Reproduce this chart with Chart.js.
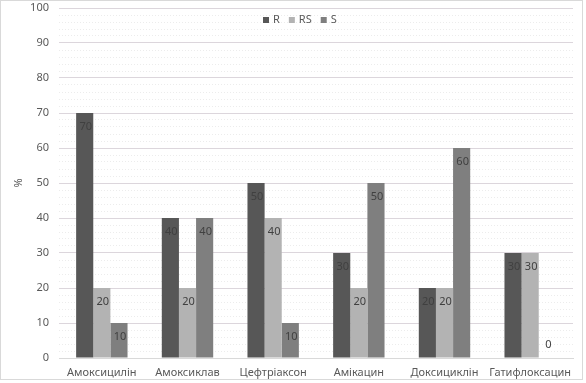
<!DOCTYPE html>
<html>
<head>
<meta charset="utf-8">
<script src="https://cdn.jsdelivr.net/npm/chart.js@4/dist/chart.umd.min.js"></script>
<style>
html,body{margin:0;padding:0;background:#fff;}
#wrap{width:586px;height:383px;position:relative;}
</style>
</head>
<body>
<div id="wrap"><canvas id="c" width="586" height="383"></canvas></div>
<script>
const categories = ["Амоксицилін","Амоксиклав","Цефтріаксон","Амікацин","Доксициклін","Гатифлоксацин"];
const seriesR  = [70, 40, 50, 30, 20, 30];
const seriesRS = [20, 20, 40, 20, 20, 30];
const seriesS  = [10, 40, 10, 50, 60, 0];
const yTicks = [0,10,20,30,40,50,60,70,80,90,100];

const FONT = "'Noto Sans', 'Liberation Sans', sans-serif";
const TXT = '#595959';

const labelPlugin = {
  id: 'barLabels',
  afterDatasetsDraw(chart) {
    const ctx = chart.ctx;
    ctx.save();
    ctx.font = '11px ' + FONT;
    ctx.fillStyle = '#404040';
    ctx.textAlign = 'center';
    ctx.textBaseline = 'middle';
    chart.data.datasets.forEach((ds, di) => {
      const meta = chart.getDatasetMeta(di);
      meta.data.forEach((el, i) => {
        const v = ds.data[i];
        const y = v === 0 ? el.y - 13 : el.y + 14;
        ctx.fillText(String(v), el.x + 1, y);
      });
    });
    ctx.restore();
  }
};

// legend drawn inside the plot area near the top
const legendPlugin = {
  id: 'innerLegend',
  afterDraw(chart) {
    const ctx = chart.ctx;
    const ds = chart.data.datasets;
    ctx.save();
    ctx.font = '11px ' + FONT;
    ctx.textBaseline = 'middle';
    const box = 6, gap = 4, itemGap = 9;
    const widths = ds.map(d => ctx.measureText(d.label).width);
    const area = chart.chartArea;
    let x = area.left + 204;
    const y = 20;
    ds.forEach((d, i) => {
      ctx.fillStyle = d.backgroundColor;
      ctx.fillRect(x, y - box / 2, box, box);
      x += box + gap;
      ctx.fillStyle = TXT;
      ctx.fillText(d.label, x, y);
      x += widths[i] + itemGap;
    });
    ctx.restore();
  }
};

const borderPlugin = {
  id: 'outerBorder',
  beforeDraw(chart) {
    const ctx = chart.ctx;
    ctx.save();
    ctx.fillStyle = '#fff';
    ctx.fillRect(0, 0, chart.width, chart.height);
    ctx.strokeStyle = '#d9d9d9';
    ctx.lineWidth = 1;
    ctx.strokeRect(0.5, 0.5, 582, 379);
    ctx.restore();
  }
};

new Chart(document.getElementById('c'), {
  type: 'bar',
  data: {
    labels: categories,
    datasets: [
      { label: 'R',  data: seriesR,  backgroundColor: '#575757' },
      { label: 'RS', data: seriesRS, backgroundColor: '#b3b3b3' },
      { label: 'S',  data: seriesS,  backgroundColor: '#7f7f7f' }
    ]
  },
  options: {
    responsive: false,
    animation: false,
    layout: { padding: { left: 12, right: 13, top: 8, bottom: 0 } },
    datasets: { bar: { categoryPercentage: 0.6, barPercentage: 1.0 } },
    plugins: {
      legend: { display: false },
      tooltip: { enabled: false }
    },
    scales: {
      x: {
        grid: { display: false, drawTicks: false },
        border: { display: true, color: '#d9d9d9' },
        ticks: { color: TXT, font: { family: FONT, size: 11 }, padding: 8, maxRotation: 0, autoSkip: false },
        afterFit(s) { s.height = 25; s.paddingLeft = 0; s.paddingRight = 0; }
      },
      y: {
        min: 0, max: 100,
        border: { display: false, dash: (c) => (c.tick && c.tick.value % 10 === 0) ? [] : [1, 2] },
        grid: {
          color: (c) => (c.tick && c.tick.value % 10 === 0) ? '#dcd6dc' : '#ececec',
          drawTicks: false
        },
        ticks: {
          stepSize: 2, autoSkip: false, padding: 10,
          color: TXT, font: { family: FONT, size: 11 },
          callback: (v) => yTicks.includes(v) ? String(v) : ''
        },
        title: { display: true, text: '%', color: TXT, font: { family: FONT, size: 11 }, padding: { top: 0, bottom: 0 } },
        afterFit(s) { s.width = 47; s.paddingTop = 0; s.paddingBottom = 0; }
      }
    }
  },
  plugins: [borderPlugin, labelPlugin, legendPlugin]
});
</script>
</body>
</html>
